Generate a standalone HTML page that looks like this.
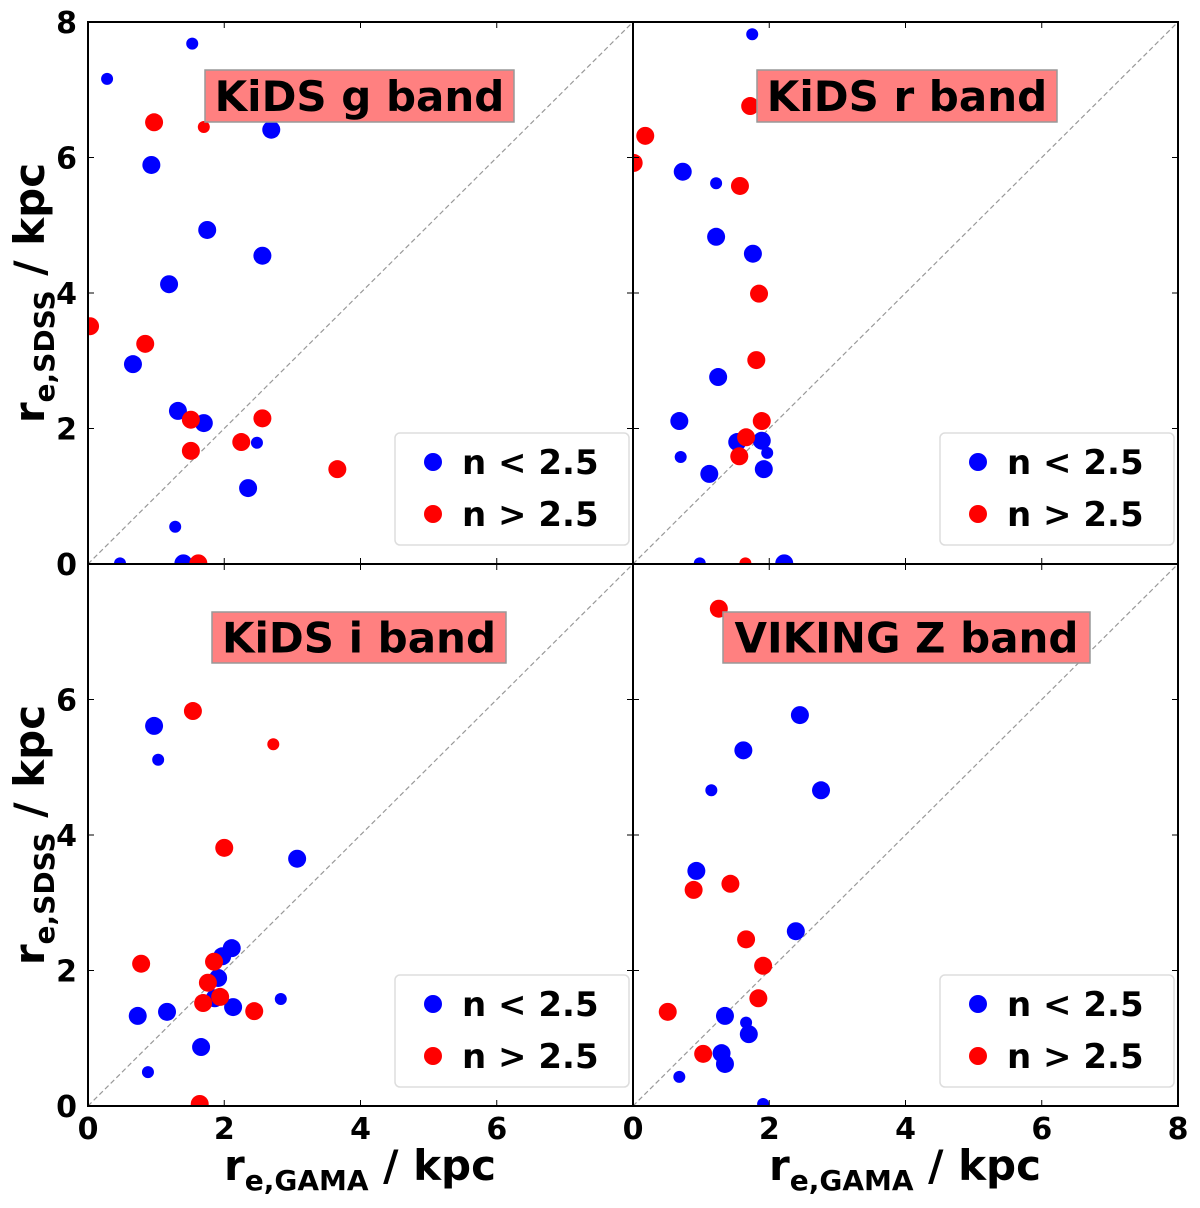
<!DOCTYPE html>
<html><head><meta charset="utf-8"><style>
body{margin:0;background:#fff;}
svg text{font-family:"DejaVu Sans","Liberation Sans",sans-serif;font-weight:bold;}
</style></head><body>
<svg id="chart" width="1200" height="1203" xmlns="http://www.w3.org/2000/svg"></svg>
<script>
const panelNames=["KiDS g band","KiDS r band","KiDS i band","VIKING Z band"];
const gBlue=[[1.53,7.68,0],[0.28,7.16,0],[2.69,6.41,1],[0.93,5.89,1],[1.75,4.93,1],[2.56,4.55,1],[1.19,4.13,1],[0.66,2.95,1],[1.32,2.26,1],[1.70,2.08,1],[2.48,1.79,0],[2.35,1.12,1],[1.28,0.55,0],[0.47,0.01,0],[1.40,0.01,1]];
const gRed=[[0.97,6.52,1],[1.70,6.45,0],[0.03,3.51,1],[0.84,3.25,1],[1.51,2.13,1],[2.56,2.15,1],[2.25,1.80,1],[1.51,1.67,1],[3.66,1.40,1],[1.62,0.01,1]];
const rBlue=[[1.75,7.82,0],[0.73,5.79,1],[1.22,5.62,0],[1.22,4.83,1],[1.76,4.58,1],[1.25,2.76,1],[0.68,2.11,1],[0.70,1.58,0],[1.53,1.80,1],[1.89,1.82,1],[1.97,1.64,0],[1.12,1.33,1],[1.92,1.40,1],[0.98,0.01,0],[2.22,0.01,1]];
const rRed=[[1.72,6.76,1],[0.18,6.32,1],[0.01,5.92,1],[1.57,5.58,1],[1.85,3.99,1],[1.81,3.01,1],[1.89,2.11,1],[1.66,1.87,1],[1.56,1.59,1],[1.65,0.01,0]];
const iBlue=[[0.97,5.61,1],[1.03,5.11,0],[3.07,3.65,1],[2.11,2.33,1],[1.97,2.21,1],[1.91,1.89,1],[1.86,1.59,1],[2.13,1.46,1],[2.83,1.58,0],[1.16,1.39,1],[0.73,1.33,1],[1.66,0.87,1],[0.88,0.50,0]];
const iRed=[[1.54,5.83,1],[2.72,5.34,0],[2.00,3.81,1],[0.78,2.10,1],[1.85,2.13,1],[1.76,1.82,1],[1.94,1.61,1],[1.69,1.52,1],[2.44,1.40,1],[1.64,0.03,1]];
const zBlue=[[1.92,7.10,1],[2.45,5.77,1],[1.62,5.25,1],[1.15,4.66,0],[2.76,4.66,1],[0.93,3.47,1],[2.39,2.58,1],[1.35,1.33,1],[1.66,1.23,0],[1.70,1.06,1],[1.30,0.78,1],[1.35,0.62,1],[0.68,0.43,0],[1.91,0.03,0]];
const zRed=[[1.26,7.34,1],[0.89,3.19,1],[1.43,3.28,1],[1.66,2.46,1],[1.91,2.07,1],[1.84,1.59,1],[0.51,1.39,1],[1.03,0.77,1]];
const xTicks=[0,2,4,6,8];
const yTicks=[0,2,4,6,8];
const legendLabels=["n < 2.5","n > 2.5"];

const NS="http://www.w3.org/2000/svg";
const svg=document.getElementById("chart");
function mk(tag,attrs,parent){const e=document.createElementNS(NS,tag);for(const k in attrs)e.setAttribute(k,attrs[k]);(parent||svg).appendChild(e);return e;}
const W=545,H=542;
const panels=[
 {x0:88,y0:22,blue:gBlue,red:gRed,box:[205,70,309,52]},
 {x0:633,y0:22,blue:rBlue,red:rRed,box:[757,70,300,52]},
 {x0:88,y0:564,blue:iBlue,red:iRed,box:[212,612,294,51]},
 {x0:633,y0:564,blue:zBlue,red:zRed,box:[723,612,367,51]}
];
const defs=mk("defs",{});
panels.forEach((p,pi)=>{
  const sx=v=>p.x0+v/8*W, sy=v=>p.y0+H-v/8*H;
  const cp=mk("clipPath",{id:"cp"+pi},defs);
  mk("rect",{x:p.x0,y:p.y0,width:W,height:H},cp);
  const g=mk("g",{"clip-path":"url(#cp"+pi+")"});
  
  
  const dl=mk("line",{x1:sx(0),y1:sy(0),x2:sx(8),y2:sy(8),stroke:"#999",'stroke-width':1.2,'stroke-dasharray':"5,3"},g);
  
  
  [[p.blue,"#0000ff","blue"],[p.red,"#ff0000","red"]].forEach(([arr,col,nm])=>{
    arr.forEach(d=>{
      const c=mk("circle",{cx:sx(d[0]),cy:sy(d[1]),r:d[2]?9:6,fill:col},g);
      
      
    });
  });
  xTicks.forEach(t=>{mk("line",{x1:sx(t),x2:sx(t),y1:p.y0+H,y2:p.y0+H-6,stroke:"#000",'stroke-width':1});mk("line",{x1:sx(t),x2:sx(t),y1:p.y0,y2:p.y0+6,stroke:"#000",'stroke-width':1});});
  yTicks.forEach(t=>{mk("line",{x1:p.x0,x2:p.x0+6,y1:sy(t),y2:sy(t),stroke:"#000",'stroke-width':1});mk("line",{x1:p.x0+W,x2:p.x0+W-6,y1:sy(t),y2:sy(t),stroke:"#000",'stroke-width':1});});
  const fr=mk("rect",{x:p.x0,y:p.y0,width:W,height:H,fill:"none",stroke:"#000",'stroke-width':2});
  
  
  const b=p.box;
  const tb=mk("rect",{x:b[0],y:b[1],width:b[2],height:b[3],fill:"#ff8080",stroke:"#999",'stroke-width':1.5});
  
  
  const tt=mk("text",{x:b[0]+b[2]/2,y:b[1]+b[3]/2+15,'text-anchor':"middle",'font-size':42,fill:"#000"});
  tt.textContent=panelNames[pi];
  
  
  const lx=p.x0+307, ly=p.y0+411;
  const lg=mk("rect",{x:lx,y:ly,width:234,height:112,rx:5,fill:"#fff",stroke:"#ddd",'stroke-width':1.5});
  
  
  legendLabels.forEach((l,i)=>{
    const c=mk("circle",{cx:lx+38,cy:ly+29+i*52,r:9,fill:i?"#ff0000":"#0000ff"});
    
    
    const t=mk("text",{x:lx+67,y:ly+41+i*52,'font-size':34});
    t.textContent=l;
    
    
  });
});
yTicks.forEach(t=>{
  [22,564].forEach(y0=>{
    if(y0===564&&t===8)return;
    const tl=mk("text",{x:77,y:y0+H-t/8*H+11,'text-anchor':"end",'font-size':30});
    tl.textContent=t;
    
    
  });
});
xTicks.forEach(t=>{
  [88,633].forEach(x0=>{
    if(x0===88&&t===8)return;
    const tl=mk("text",{x:x0+t/8*W,y:1139,'text-anchor':"middle",'font-size':30});
    tl.textContent=t;
    
    
  });
});
[293,835].forEach(cy=>{
  const t=mk("text",{x:0,y:0,'font-size':42,'text-anchor':"middle",transform:`translate(44,${cy}) rotate(-90)`});
  t.innerHTML='r<tspan font-size="28" dy="10">e,SDSS</tspan><tspan dy="-10"> / kpc</tspan>';
  
  
});
[360,905].forEach(cx=>{
  const t=mk("text",{x:cx,y:1180,'font-size':42,'text-anchor':"middle"});
  t.innerHTML='r<tspan font-size="28" dy="10">e,GAMA</tspan><tspan dy="-10"> / kpc</tspan>';
  
  
});
</script>
</body></html>
